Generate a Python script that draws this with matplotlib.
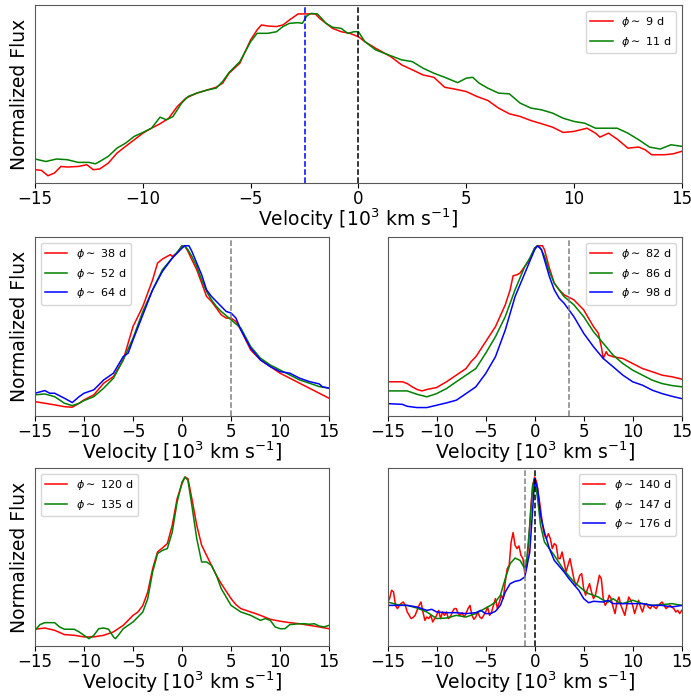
import numpy as np
import matplotlib
matplotlib.use("Agg")
from matplotlib import pyplot as plt

# ---- panel 1 : phi ~ 9 d, 11 d ----
v_9d = [-15, -14.7, -14.4, -14.1, -13.8, -13.5, -13.0, -12.6, -12.3, -12.0, -11.6, -11.2, -10.8, -10.4,
        -10.0, -9.6, -9.2, -8.8, -8.4, -8.0, -7.5, -7.0, -6.6, -6.3, -6.0, -5.5, -5.0, -4.7, -4.5, -4.2,
        -3.8, -3.5, -3.2, -2.8, -2.4, -2.0, -1.8, -1.5, -1.2, -0.8, -0.4, 0.0, 0.3, 0.8, 1.5, 2.0, 2.5,
        3.0, 3.5, 4.0, 4.5, 5.0, 5.5, 6.0, 6.5, 7.0, 7.5, 8.0, 8.5, 9.0, 9.5, 10.0, 10.3, 10.6, 11.0,
        11.2, 11.6, 12.0, 12.5, 13.0, 13.3, 13.6, 14.2, 14.6, 15.0]
f_9d = [0.075, 0.071, 0.041, 0.056, 0.093, 0.090, 0.093, 0.103, 0.075, 0.079, 0.112, 0.168, 0.206, 0.243,
        0.280, 0.308, 0.333, 0.364, 0.430, 0.477, 0.505, 0.523, 0.538, 0.561, 0.617, 0.673, 0.804, 0.860,
        0.888, 0.882, 0.879, 0.888, 0.916, 0.950, 0.950, 0.950, 0.925, 0.897, 0.869, 0.850, 0.841, 0.822,
        0.794, 0.757, 0.710, 0.664, 0.636, 0.607, 0.594, 0.538, 0.527, 0.514, 0.486, 0.464, 0.421, 0.389,
        0.374, 0.351, 0.333, 0.314, 0.284, 0.290, 0.299, 0.308, 0.280, 0.258, 0.280, 0.247, 0.196, 0.202,
        0.187, 0.159, 0.159, 0.164, 0.178]
v_11d = [-15, -14.5, -14, -13.5, -13, -12.5, -12.2, -12.0, -11.6, -11.2, -10.8, -10.4, -10.0, -9.6, -9.2,
         -8.9, -8.6, -8.2, -7.9, -7.5, -7.0, -6.6, -6.3, -6.0, -5.5, -5.0, -4.7, -4.5, -4.2, -3.8, -3.5,
         -3.2, -2.8, -2.6, -2.4, -2.2, -1.9, -1.5, -1.2, -0.8, -0.5, -0.2, 0.0, 0.3, 0.8, 1.2, 2.0, 2.5,
         3.0, 3.5, 4.0, 4.6, 5.0, 5.3, 5.6, 6.0, 6.5, 7.0, 7.5, 8.0, 8.5, 9.0, 9.5, 10.0, 10.5, 11.0,
         11.5, 12.0, 12.5, 13.0, 13.5, 14.0, 14.5, 15.0]
f_11d = [0.135, 0.121, 0.135, 0.131, 0.116, 0.116, 0.108, 0.121, 0.150, 0.196, 0.224, 0.262, 0.284, 0.308,
         0.370, 0.355, 0.374, 0.449, 0.486, 0.505, 0.523, 0.533, 0.570, 0.621, 0.682, 0.794, 0.841, 0.841,
         0.841, 0.850, 0.879, 0.897, 0.901, 0.897, 0.938, 0.953, 0.950, 0.897, 0.875, 0.869, 0.841, 0.850,
         0.850, 0.794, 0.748, 0.729, 0.692, 0.682, 0.645, 0.617, 0.594, 0.564, 0.589, 0.594, 0.561, 0.533,
         0.505, 0.501, 0.449, 0.421, 0.411, 0.393, 0.364, 0.346, 0.336, 0.308, 0.308, 0.308, 0.280, 0.243,
         0.202, 0.191, 0.215, 0.206]

# ---- panel 2 : phi ~ 38, 52, 64 d ----
v_38d = [-15, -14, -13, -12, -11.2, -10.5, -10, -9, -8, -7, -6, -5.5, -5, -4.5, -4, -3.5, -3, -2.5, -2,
         -1.5, -1.2, -1, -0.5, 0, 0.3, 0.6, 1, 1.5, 2, 2.5, 3, 3.5, 4, 4.5, 5, 5.5, 6, 6.5, 7, 8, 9, 10,
         11, 12, 13, 14, 15]
f_38d = [0.080, 0.071, 0.062, 0.052, 0.049, 0.071, 0.090, 0.118, 0.183, 0.220, 0.313, 0.407, 0.500, 0.556,
         0.612, 0.687, 0.761, 0.854, 0.877, 0.892, 0.901, 0.892, 0.910, 0.951, 0.948, 0.920, 0.873, 0.817,
         0.743, 0.668, 0.640, 0.603, 0.565, 0.547, 0.547, 0.528, 0.481, 0.425, 0.369, 0.313, 0.276, 0.239,
         0.211, 0.183, 0.155, 0.127, 0.099]
v_52d = [-15, -14, -13, -12, -11.2, -10.5, -10, -9, -8, -7, -6, -5, -4, -3, -2, -1, -0.3, 0, 0.3, 0.6, 1,
         1.5, 2, 2.5, 3, 3.5, 4, 5, 6, 7, 8, 9, 10, 11, 12, 13, 14, 15]
f_52d = [0.118, 0.123, 0.108, 0.071, 0.058, 0.071, 0.086, 0.108, 0.155, 0.211, 0.313, 0.435, 0.584, 0.705,
         0.817, 0.882, 0.929, 0.951, 0.948, 0.929, 0.892, 0.836, 0.761, 0.696, 0.649, 0.612, 0.584, 0.537,
         0.491, 0.388, 0.323, 0.285, 0.257, 0.229, 0.201, 0.183, 0.164, 0.155]
v_64d = [-15, -14, -13.5, -13, -12, -11.2, -10.5, -10, -9, -8, -7, -6, -5.5, -5, -4, -3, -2, -1, 0, 0.3,
         0.7, 1, 1.5, 2, 2.5, 3, 3.5, 4, 4.5, 5, 5.5, 6, 7, 8, 9, 10, 11, 12, 13, 14, 14.3, 15]
f_64d = [0.127, 0.142, 0.127, 0.127, 0.099, 0.075, 0.108, 0.127, 0.146, 0.201, 0.239, 0.332, 0.351, 0.425,
         0.565, 0.705, 0.808, 0.882, 0.938, 0.951, 0.951, 0.920, 0.854, 0.789, 0.705, 0.668, 0.640, 0.612,
         0.584, 0.575, 0.547, 0.481, 0.379, 0.313, 0.276, 0.248, 0.239, 0.211, 0.192, 0.179, 0.164, 0.155]

# ---- panel 3 : phi ~ 82, 86, 98 d ----
v_82d = [-15, -13.5, -13, -12.5, -12, -11.5, -11, -10, -9, -8, -7, -6.5, -6, -5, -4, -3, -2.5, -2.2, -1.8,
         -1.5, -1, -0.5, 0, 0.3, 0.8, 1, 1.5, 2, 2.5, 3, 4, 4.5, 5, 5.5, 6, 6.5, 6.8, 7.0, 7.3, 7.5, 8, 9,
         10, 11, 12, 13, 14, 15]
f_82d = [0.191, 0.191, 0.181, 0.163, 0.148, 0.140, 0.148, 0.159, 0.191, 0.228, 0.265, 0.303, 0.331, 0.415,
         0.499, 0.621, 0.705, 0.783, 0.789, 0.798, 0.836, 0.873, 0.938, 0.951, 0.951, 0.929, 0.826, 0.742,
         0.705, 0.677, 0.649, 0.621, 0.593, 0.546, 0.499, 0.462, 0.387, 0.321, 0.359, 0.340, 0.331, 0.321,
         0.293, 0.265, 0.247, 0.228, 0.219, 0.206]
v_86d = [-15, -13, -12, -11, -10, -9, -8, -7, -6, -5, -4, -3, -2, -1, -0.5, 0, 0.3, 0.6, 1, 1.5, 2, 3, 4,
         5, 6, 7, 8, 9, 10, 11, 12, 13, 14, 15]
f_86d = [0.140, 0.140, 0.121, 0.107, 0.125, 0.153, 0.191, 0.228, 0.265, 0.350, 0.443, 0.555, 0.705, 0.836,
         0.882, 0.938, 0.951, 0.938, 0.892, 0.807, 0.742, 0.667, 0.621, 0.555, 0.471, 0.406, 0.340, 0.293,
         0.256, 0.228, 0.200, 0.181, 0.170, 0.163]
v_98d = [-15, -13.5, -13, -12, -11, -10, -9, -8, -7, -6, -5, -4, -3, -2, -1, -0.5, 0, 0.3, 0.7, 1, 1.5, 2,
         2.5, 3, 4, 5, 6, 7, 8, 9, 10, 11, 12, 13, 14, 15]
f_98d = [0.069, 0.065, 0.054, 0.047, 0.047, 0.060, 0.073, 0.088, 0.125, 0.163, 0.237, 0.331, 0.480, 0.667,
         0.798, 0.864, 0.929, 0.951, 0.929, 0.873, 0.779, 0.705, 0.658, 0.630, 0.555, 0.462, 0.387, 0.321,
         0.275, 0.228, 0.191, 0.172, 0.144, 0.125, 0.110, 0.097]

# ---- panel 4 : phi ~ 120, 135 d ----
v_120d = [-15, -14, -13, -12, -11, -10, -9, -8, -7, -6, -5, -4.5, -4, -3.5, -3, -2.5, -2, -1.5, -1, -0.5,
          0, 0.3, 0.6, 1, 1.5, 2, 2.5, 3, 3.5, 4, 5, 5.5, 6, 7, 7.5, 8, 9, 10, 11, 12, 13, 14, 15]
f_120d = [0.094, 0.101, 0.088, 0.064, 0.060, 0.051, 0.051, 0.060, 0.079, 0.116, 0.172, 0.191, 0.228, 0.303,
          0.434, 0.528, 0.551, 0.575, 0.678, 0.828, 0.912, 0.949, 0.940, 0.828, 0.678, 0.566, 0.509, 0.453,
          0.397, 0.350, 0.266, 0.232, 0.210, 0.191, 0.182, 0.172, 0.150, 0.139, 0.131, 0.125, 0.116, 0.107,
          0.097]
v_135d = [-15, -14.5, -14, -13, -12.5, -12, -11, -10.5, -10, -9.5, -9, -8.5, -8, -7.5, -7, -6.8, -6.5, -6,
          -5.5, -5, -4.5, -4, -3.5, -3, -2.5, -2, -1.5, -1, -0.5, 0, 0.3, 0.6, 1, 1.5, 2, 2.5, 3, 3.5, 4,
          5, 6, 7, 8, 8.5, 9, 9.5, 10, 10.5, 11, 12, 12.5, 13, 13.5, 14, 14.5, 15]
f_135d = [0.088, 0.120, 0.131, 0.131, 0.107, 0.094, 0.094, 0.079, 0.060, 0.041, 0.060, 0.097, 0.101, 0.094,
          0.051, 0.041, 0.060, 0.097, 0.116, 0.135, 0.163, 0.191, 0.266, 0.416, 0.519, 0.537, 0.547, 0.640,
          0.809, 0.921, 0.949, 0.931, 0.790, 0.603, 0.472, 0.472, 0.453, 0.397, 0.322, 0.228, 0.191, 0.172,
          0.144, 0.154, 0.144, 0.107, 0.097, 0.097, 0.120, 0.125, 0.125, 0.122, 0.125, 0.112, 0.107, 0.116]

# ---- panel 5 : phi ~ 140, 147, 176 d ----
v_140d = np.round(np.arange(-15, 15.01, 0.2), 1)
f_140d = [0.247, 0.266, 0.313, 0.303, 0.228, 0.210, 0.228, 0.240, 0.247, 0.228, 0.191, 0.172, 0.154, 0.160,
          0.172, 0.200, 0.228, 0.247, 0.191, 0.144, 0.163, 0.154, 0.172, 0.135, 0.154, 0.172, 0.200, 0.154,
          0.191, 0.172, 0.191, 0.154, 0.163, 0.191, 0.210, 0.210, 0.182, 0.172, 0.187, 0.163, 0.182, 0.210,
          0.228, 0.172, 0.150, 0.163, 0.191, 0.163, 0.154, 0.172, 0.191, 0.219, 0.172, 0.191, 0.228, 0.266,
          0.210, 0.247, 0.285, 0.266, 0.360, 0.434, 0.453, 0.584, 0.637, 0.566, 0.547, 0.562, 0.509, 0.491,
          0.406, 0.453, 0.584, 0.772, 0.903, 0.949, 0.921, 0.846, 0.772, 0.678, 0.622, 0.603, 0.631, 0.603,
          0.547, 0.575, 0.566, 0.491, 0.491, 0.528, 0.472, 0.416, 0.453, 0.491, 0.434, 0.378, 0.341, 0.360,
          0.397, 0.406, 0.322, 0.285, 0.322, 0.350, 0.303, 0.266, 0.285, 0.341, 0.397, 0.378, 0.266, 0.228,
          0.247, 0.285, 0.266, 0.219, 0.182, 0.247, 0.275, 0.228, 0.200, 0.172, 0.228, 0.275, 0.257, 0.228,
          0.182, 0.219, 0.257, 0.219, 0.191, 0.228, 0.238, 0.219, 0.210, 0.228, 0.219, 0.210, 0.228, 0.238,
          0.247, 0.228, 0.210, 0.219, 0.228, 0.219, 0.210, 0.191, 0.200, 0.182, 0.200]
v_147d = [-15, -14, -13, -12, -11, -10, -9, -8, -7, -6, -5, -4.5, -4, -3.5, -3, -2.5, -2, -1.5, -1, -0.8,
          -0.5, -0.2, 0, 0.3, 0.6, 1, 1.5, 2, 3, 4, 5, 5.5, 6, 6.5, 7, 7.5, 8, 8.5, 9, 10, 11, 12, 13, 14, 15]
f_147d = [0.247, 0.232, 0.228, 0.213, 0.191, 0.154, 0.157, 0.172, 0.163, 0.182, 0.213, 0.228, 0.247, 0.285,
          0.378, 0.463, 0.494, 0.481, 0.434, 0.491, 0.678, 0.903, 0.940, 0.828, 0.678, 0.584, 0.547, 0.509,
          0.425, 0.360, 0.313, 0.294, 0.285, 0.275, 0.257, 0.247, 0.266, 0.247, 0.238, 0.257, 0.238, 0.228,
          0.232, 0.238, 0.228]
v_176d = [-15, -13, -12, -11, -10.5, -10, -9, -8, -7, -6, -5.5, -5, -4.5, -4, -3.5, -3, -2.5, -2, -1.5, -1,
          -0.5, -0.2, 0, 0.3, 0.6, 1, 1.5, 2, 3, 3.5, 4, 4.5, 5, 5.5, 6, 7, 7.5, 8, 9, 10, 11, 12, 13, 14, 15]
f_176d = [0.228, 0.228, 0.219, 0.200, 0.206, 0.191, 0.187, 0.187, 0.182, 0.187, 0.200, 0.182, 0.182, 0.195,
          0.228, 0.303, 0.350, 0.363, 0.369, 0.388, 0.528, 0.772, 0.940, 0.884, 0.734, 0.640, 0.547, 0.481,
          0.416, 0.378, 0.345, 0.313, 0.266, 0.243, 0.251, 0.247, 0.256, 0.238, 0.238, 0.238, 0.238, 0.228,
          0.228, 0.219, 0.228]

xlab = r"Velocity [$10^3$ km s$^{-1}$]"


def style(ax, ylabel=True):
    ax.set_xlim(-15, 15)
    ax.set_ylim(0, 1)
    ax.set_yticks([])
    ax.set_xticks([-15, -10, -5, 0, 5, 10, 15])
    ax.tick_params(axis="x", labelsize=12, length=3.5, pad=1.5)
    ax.set_xlabel(xlab, fontsize=13.5, labelpad=-1)
    if ylabel:
        ax.set_ylabel("Normalized Flux", fontsize=13.5)
    for s in ax.spines.values():
        s.set_color("0.35")


fig = plt.figure(figsize=(6.91, 6.97), dpi=100)

ax1 = fig.add_axes([0.0507, 0.7374, 0.936, 0.2554])
ax1.plot(v_9d, f_9d, color="r", lw=1.1, label=r"$\phi\sim$ 9 d")
ax1.plot(v_11d, f_11d, color="g", lw=1.1, label=r"$\phi\sim$ 11 d")
ax1.axvline(-2.5, color="b", ls="--", lw=1.1)
ax1.axvline(0, color="k", ls="--", lw=1.1)
ax1.legend(loc="upper right", fontsize=8)
style(ax1)

ax2 = fig.add_axes([0.0507, 0.4032, 0.4255, 0.2568])
ax2.plot(v_38d, f_38d, color="r", lw=1.1, label=r"$\phi\sim$ 38 d")
ax2.plot(v_52d, f_52d, color="g", lw=1.1, label=r"$\phi\sim$ 52 d")
ax2.plot(v_64d, f_64d, color="b", lw=1.1, label=r"$\phi\sim$ 64 d")
ax2.axvline(5, color="grey", ls="--", lw=1.1)
ax2.legend(loc="upper left", fontsize=8)
style(ax2)

ax3 = fig.add_axes([0.561, 0.4032, 0.4255, 0.2568])
ax3.plot(v_82d, f_82d, color="r", lw=1.1, label=r"$\phi\sim$ 82 d")
ax3.plot(v_86d, f_86d, color="g", lw=1.1, label=r"$\phi\sim$ 86 d")
ax3.plot(v_98d, f_98d, color="b", lw=1.1, label=r"$\phi\sim$ 98 d")
ax3.axvline(3.5, color="grey", ls="--", lw=1.1)
ax3.legend(loc="upper right", fontsize=8)
style(ax3, ylabel=False)

ax4 = fig.add_axes([0.0507, 0.0732, 0.4255, 0.2554])
ax4.plot(v_120d, f_120d, color="r", lw=1.1, label=r"$\phi\sim$ 120 d")
ax4.plot(v_135d, f_135d, color="g", lw=1.1, label=r"$\phi\sim$ 135 d")
ax4.legend(loc="upper left", fontsize=8)
style(ax4)

ax5 = fig.add_axes([0.561, 0.0732, 0.4255, 0.2554])
ax5.plot(v_140d, f_140d, color="r", lw=1.1, label=r"$\phi\sim$ 140 d")
ax5.plot(v_147d, f_147d, color="g", lw=1.1, label=r"$\phi\sim$ 147 d")
ax5.plot(v_176d, f_176d, color="b", lw=1.1, label=r"$\phi\sim$ 176 d")
ax5.axvline(-1, color="grey", ls="--", lw=1.1)
ax5.axvline(0, color="k", ls="--", lw=1.1)
ax5.legend(loc="upper right", fontsize=8)
style(ax5, ylabel=False)

fig.savefig("out.png", dpi=100)
